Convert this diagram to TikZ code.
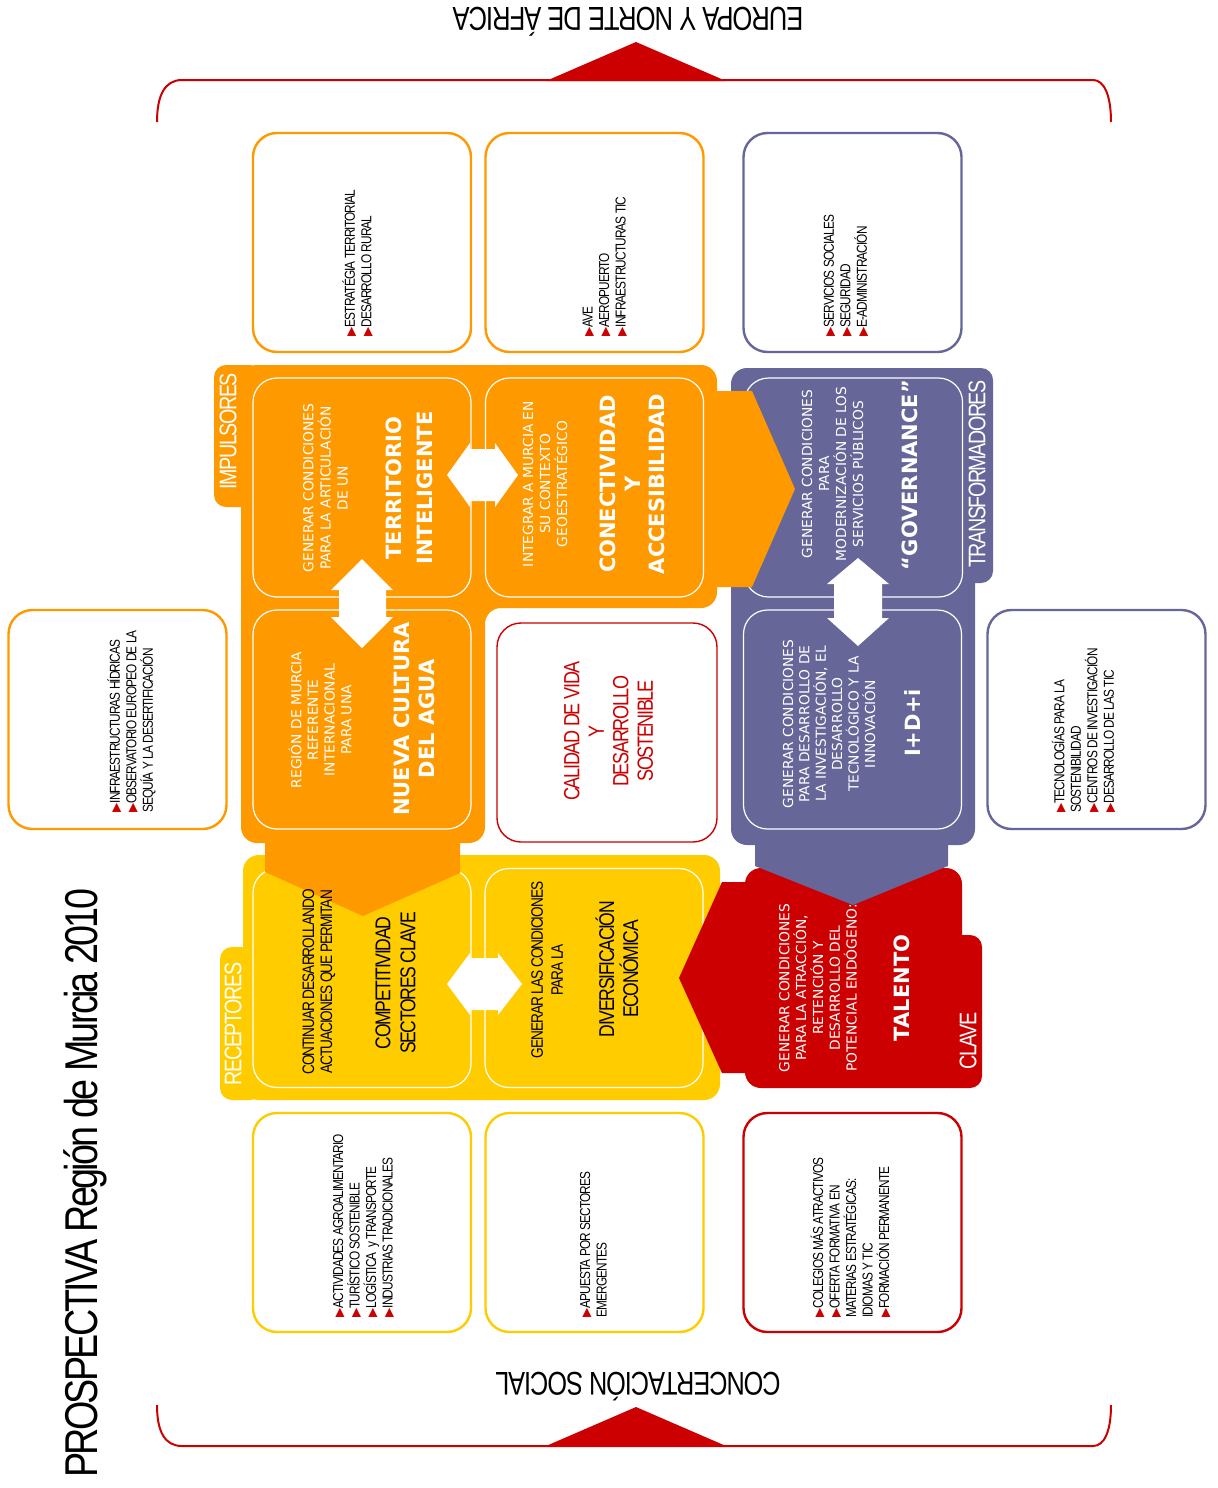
\documentclass[tikz,border=0pt]{standalone}
\usepackage{fontspec}
\setmainfont{Liberation Sans}
\newfontfamily\cnd[FakeStretch=0.82,LetterSpace=-6]{Liberation Sans}
\newfontfamily\cndw[FakeStretch=0.77,LetterSpace=-3]{Liberation Sans}
\newfontfamily\verd{DejaVu Sans}
\newfontfamily\symf{DejaVu Sans}
\definecolor{orng}{HTML}{FF9900}
\definecolor{purp}{HTML}{666699}
\definecolor{yell}{HTML}{FFCC00}
\definecolor{redc}{HTML}{CC0000}
\newcommand{\bul}{{\symf\fontsize{6}{6}\selectfont\color{redc}▶}}
\tikzset{
  card/.style={draw, rounded corners=12pt, fill=white, minimum width=109pt, minimum height=109.5pt, line width=1.2pt, inner sep=0pt},
  inbox/.style={draw=white, line width=0.6pt, rounded corners=12pt, minimum width=109pt, minimum height=109.5pt, inner sep=0pt},
  listtxt/.style={rotate=90, anchor=west, align=left, inner sep=0pt, font=\fontsize{7.2}{8.25}\selectfont\cnd},
  smalltxt/.style={rotate=90, align=center, inner sep=0pt, text=white, font=\fontsize{6.9}{8.6}\selectfont\verd},
  boldtxt/.style={rotate=90, align=center, inner sep=0pt, text=white, font=\fontsize{10.5}{15.5}\selectfont\verd\bfseries},
  tabtxt/.style={rotate=90, inner sep=0pt, text=white, font=\fontsize{12}{12}\selectfont\cnd},
  bracket/.style={draw=redc, line width=1pt},
  dblarrow/.style={fill=white},
}
\begin{document}
\begin{tikzpicture}[x=0.5pt, y=-0.5pt]
\useasboundingbox (0,0) rectangle (1218,1488);
\fill[white] (0,0) rectangle (1218,1488);

% brackets
\draw[bracket] (157,122) .. controls (157,95) and (165,80) .. (182,80) -- (1093,80) .. controls (1104,80) and (1111,95) .. (1111,122);
\fill[redc] (546,81) -- (636,42) -- (726,81) -- cycle;
\draw[bracket] (157,1405) .. controls (157,1432) and (165,1446) .. (182,1446) -- (1093,1446) .. controls (1104,1446) and (1111,1432) .. (1111,1405);
\fill[redc] (546,1446) -- (636,1407) -- (726,1446) -- cycle;
\node[rotate=180, anchor=base, inner sep=0pt, font=\fontsize{16.6}{16.6}\selectfont\cndw] (north) at (628,7) {EUROPA Y NORTE DE ÁFRICA};
\node[rotate=180, anchor=base, inner sep=0pt, font=\fontsize{16.4}{16.4}\selectfont\cndw] (south) at (638,1372) {CONCERTACIÓN SOCIAL};
\node[rotate=90, anchor=base west, inner sep=0pt, font=\fontsize{23}{23}\selectfont\cnd] (title) at (97,1478) {PROSPECTIVA Región de Murcia 2010};

% outer cards
\node[card, draw=orng] (t1) at (362,242.5) {};
\node[card, draw=orng] (t2) at (594.5,242.5) {};
\node[card, draw=purp] (t3) at (852.5,242.5) {};
\node[card, draw=orng] (lb) at (117.5,719.5) {};
\node[card, draw=purp] (rb) at (1096.5,719.5) {};
\node[card, draw=yell] (b1) at (362,1222.5) {};
\node[card, draw=yell] (b2) at (594.5,1222.5) {};
\node[card, draw=redc] (b3) at (852.5,1222.5) {};
\node[card, draw=redc, line width=0.7pt, minimum width=110pt] (cvd) at (607,732.5) {};

\node[listtxt] (t1txt) at (357.5,337) {\bul ESTRATÉGIA TERRITORIAL\\\bul DESARROLLO RURAL};
\node[listtxt] (t2txt) at (605,337) {\bul AVE\\\bul AEROPUERTO\\\bul INFRAESTRUCTURAS TIC};
\node[listtxt] (t3txt) at (846,337) {\bul SERVICIOS SOCIALES\\\bul SEGURIDAD\\\bul E-ADMINISTRACIÓN};
\node[listtxt] (lbtxt) at (131.5,813) {\bul INFRAESTRUCTURAS HÍDRICAS\\\bul OBSERVATORIO EUROPEO DE LA\\SEQUÍA Y LA DESERTIFICACIÓN};
\node[listtxt] (rbtxt) at (1083.5,813) {\bul TECNOLOGÍAS PARA LA\\SOSTENIBILIDAD\\\bul CENTROS DE INVESTIGACIÓN\\\bul DESARROLLO DE LAS TIC};
\node[listtxt] (b1txt) at (363.5,1318) {\bul ACTIVIDADES AGROALIMENTARIO\\\bul TURÍSTICO SOSTENIBLE\\\bul LOGÍSTICA \ y TRANSPORTE\\\bul INDUSTRIAS TRADICIONALES};
\node[listtxt] (b2txt) at (593.5,1318) {\bul APUESTA POR SECTORES\\EMERGENTES};
\node[listtxt] (b3txt) at (850.5,1318) {\bul COLEGIOS MÁS ATRACTIVOS\\\bul OFERTA FORMATIVA EN\\MATERIAS ESTRATÉGICAS:\\IDIOMAS Y TIC\\\bul FORMACIÓN PERMANENTE};
\node[rotate=90, align=center, inner sep=0pt, text=redc, font=\fontsize{11}{12.25}\selectfont\cnd] (cvdtxt) at (608.5,731) {CALIDAD DE VIDA\\Y\\DESARROLLO\\SOSTENIBLE};

% yellow block (RECEPTORES)
\fill[yell, rounded corners=6pt] (220,947) rectangle (262,1100);
\fill[yell, rounded corners=8pt] (243,855) rectangle (720,1100);
\node[inbox] (csc) at (362,978) {};
\node[inbox] (de) at (594,978) {};

% red block (CLAVE)
\fill[redc, rounded corners=6pt] (935,935) rectangle (982,1088);
\fill[redc, rounded corners=8pt] (745,868) rectangle (962,1088);
\fill[redc] (760,882) -- (722,882) -- (679,978) -- (722,1073) -- (760,1073) -- cycle;
\node[smalltxt, font=\fontsize{6.9}{8.4}\selectfont\verd] (taltxt) at (818,988) {GENERAR CONDICIONES\\PARA LA ATRACCIÓN,\\RETENCIÓN Y\\DESARROLLO DEL\\POTENCIAL ENDÓGENO:};
\node[boldtxt] (tal) at (902,988) {TALENTO};
\node[tabtxt] (clave) at (968,1041) {CLAVE};

% purple block (TRANSFORMADORES)
\fill[purp, rounded corners=6pt] (950,368) rectangle (993,583);
\fill[purp, rounded corners=8pt] (731,368) rectangle (975,845);
\fill[purp] (755,830) -- (948,830) -- (948,866) -- (853,905) -- (755,866) -- cycle;
\node[inbox] (gov) at (853.5,487.5) {};
\node[inbox] (idi) at (852.5,719.5) {};

% orange block (IMPULSORES)
\fill[orng, rounded corners=6pt] (214,365) rectangle (262,507);
\fill[orng, rounded corners=8pt] (241,365) -- (717,365) -- (717,608) -- (485,608) -- (485,843) -- (241,843) -- cycle;
\node[inbox] (ti) at (362,487.5) {};
\node[inbox] (ca) at (594.5,487.5) {};
\node[inbox] (nca) at (362,719.5) {};
\fill[orng] (705,391) -- (752,391) -- (795,489) -- (752,587) -- (705,587) -- cycle;
\fill[orng] (265,830) -- (460,830) -- (460,873) -- (363,916) -- (265,872) -- cycle;

% white double arrows
\fill[dblarrow] (447,475) -- (470,443) -- (470,449) -- (495,449) -- (495,443) -- (518,475) -- (495,507) -- (495,501) -- (470,501) -- (470,507) -- cycle;
\fill[dblarrow] (362,559) -- (393,590) -- (386,590) -- (386,617) -- (393,617) -- (362,648) -- (331,617) -- (339,617) -- (339,590) -- (331,590) -- cycle;
\fill[dblarrow] (858,558) -- (889,584) -- (882,584) -- (882,618) -- (889,618) -- (858,646) -- (827,618) -- (834,618) -- (834,584) -- (827,584) -- cycle;
\fill[dblarrow] (447,984) -- (470,953) -- (470,958) -- (498,958) -- (498,953) -- (522,984) -- (498,1015) -- (498,1010) -- (470,1010) -- (470,1015) -- cycle;

% tab labels
\node[tabtxt] (imp) at (228,431) {IMPULSORES};
\node[tabtxt] (trf) at (977,474) {TRANSFORMADORES};
\node[tabtxt] (rec) at (233,1024) {RECEPTORES};

% orange texts
\node[smalltxt] (titxt) at (325.5,488) {GENERAR CONDICIONES\\PARA LA ARTICULACIÓN\\DE UN};
\node[boldtxt] (tib) at (409.5,488) {TERRITORIO\\INTELIGENTE};
\node[smalltxt, font=\fontsize{6.9}{8.5}\selectfont\verd] (catxt) at (545,484) {INTEGRAR A MURCIA EN\\SU CONTEXTO\\GEOESTRATÉGICO};
\node[boldtxt, font=\fontsize{10.5}{12.25}\selectfont\verd\bfseries] (cab) at (632.5,484) {CONECTIVIDAD\\Y\\ACCESIBILIDAD};
\node[smalltxt, font=\fontsize{6.9}{8.35}\selectfont\verd] (ncatxt) at (320,720) {REGIÓN DE MURCIA\\REFERENTE\\INTERNACIONAL\\PARA UNA};
\node[boldtxt, font=\fontsize{10.5}{12.5}\selectfont\verd\bfseries] (ncab) at (414.5,719) {NUEVA CULTURA\\DEL AGUA};

% purple texts
\node[smalltxt, font=\fontsize{6.9}{8.5}\selectfont\verd] (govtxt) at (832.5,474) {GENERAR CONDICIONES\\PARA\\MODERNIZACIÓN DE LOS\\SERVICIOS PÚBLICOS};
\node[boldtxt] (govb) at (910,475) {“GOVERNANCE”};
\node[smalltxt, font=\fontsize{6.9}{8.2}\selectfont\verd] (iditxt) at (829,724) {GENERAR CONDICIONES\\PARA DESARROLLO DE\\LA INVESTIGACIÓN, EL\\DESARROLLO\\TECNOLÓGICO Y LA\\INNOVACIÓN};
\node[boldtxt] (idib) at (913,723) {I+D+i};

% yellow texts
\node[rotate=90, align=center, inner sep=0pt, font=\fontsize{8.3}{9}\selectfont\cnd] (csctxt) at (319,982) {CONTINUAR DESARROLLANDO\\ACTUACIONES QUE PERMITAN};
\node[rotate=90, align=center, inner sep=0pt, font=\fontsize{10.7}{12.5}\selectfont\cnd] (cscb) at (395.5,983) {COMPETITIVIDAD\\SECTORES CLAVE};
\node[rotate=90, align=center, inner sep=0pt, font=\fontsize{8.3}{10}\selectfont\cnd] (detxt) at (547,970) {GENERAR LAS CONDICIONES\\PARA LA};
\node[rotate=90, align=center, inner sep=0pt, font=\fontsize{10.7}{12}\selectfont\cnd] (deb) at (617,969) {DIVERSIFICACIÓN\\ECONÓMICA};
\end{tikzpicture}
\end{document}
